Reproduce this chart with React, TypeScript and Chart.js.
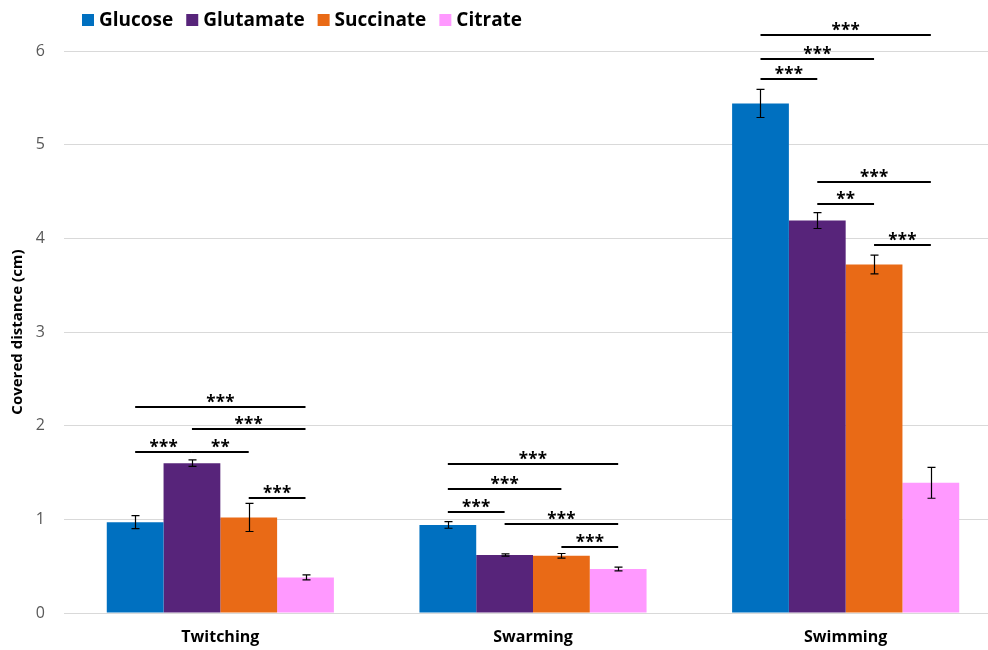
import React, { useEffect, useRef } from 'react';
import { Chart, registerables } from 'chart.js';

Chart.register(...registerables);

const categories = ['Twitching', 'Swarming', 'Swimming'];
const seriesNames = ['Glucose', 'Glutamate', 'Succinate', 'Citrate'];
const seriesColors = ['#0070C0', '#57247A', '#E96A16', '#FF99FF'];

// Mean covered distance (cm) per carbon source
const glucose = [0.97, 0.94, 5.44];
const glutamate = [1.6, 0.62, 4.19];
const succinate = [1.02, 0.61, 3.72];
const citrate = [0.38, 0.47, 1.39];

// Standard errors
const glucoseErr = [0.07, 0.035, 0.15];
const glutamateErr = [0.035, 0.012, 0.085];
const succinateErr = [0.15, 0.025, 0.1];
const citrateErr = [0.027, 0.02, 0.165];

const yMin = 0;
const yMax = 6;
const yStep = 1;

// Significance brackets: [from series, to series, height (cm), stars]
const twitchingBrackets: [number, number, number, string][] = [
  [0, 3, 2.2, '***'],
  [1, 3, 1.96, '***'],
  [0, 1, 1.72, '***'],
  [1, 2, 1.72, '**'],
  [2, 3, 1.23, '***'],
];
const swarmingBrackets: [number, number, number, string][] = [
  [0, 3, 1.59, '***'],
  [0, 2, 1.32, '***'],
  [0, 1, 1.08, '***'],
  [1, 3, 0.95, '***'],
  [2, 3, 0.7, '***'],
];
const swimmingBrackets: [number, number, number, string][] = [
  [0, 3, 6.17, '***'],
  [0, 2, 5.91, '***'],
  [0, 1, 5.7, '***'],
  [1, 3, 4.6, '***'],
  [1, 2, 4.37, '**'],
  [2, 3, 3.93, '***'],
];

const seriesValues = [glucose, glutamate, succinate, citrate];
const seriesErrors = [glucoseErr, glutamateErr, succinateErr, citrateErr];
const bracketGroups = [twitchingBrackets, swarmingBrackets, swimmingBrackets];

const FONT = "'Open Sans', 'DejaVu Sans', sans-serif";

const errorBarPlugin = {
  id: 'errorBars',
  afterDatasetsDraw(chart: any) {
    const { ctx } = chart;
    const yScale = chart.scales.y;
    ctx.save();
    ctx.strokeStyle = '#000';
    ctx.lineWidth = 1.2;
    seriesErrors.forEach((errs, di) => {
      const meta = chart.getDatasetMeta(di);
      meta.data.forEach((bar: any, ci: number) => {
        const v = seriesValues[di][ci];
        const e = errs[ci];
        const x = Math.round(bar.x) + 0.5;
        const yTop = yScale.getPixelForValue(v + e);
        const yBot = yScale.getPixelForValue(v - e);
        const cap = 4;
        ctx.beginPath();
        ctx.moveTo(x, yTop);
        ctx.lineTo(x, yBot);
        ctx.moveTo(x - cap, yTop);
        ctx.lineTo(x + cap, yTop);
        ctx.moveTo(x - cap, yBot);
        ctx.lineTo(x + cap, yBot);
        ctx.stroke();
      });
    });
    ctx.restore();
  },
};

const bracketPlugin = {
  id: 'sigBrackets',
  afterDraw(chart: any) {
    const { ctx } = chart;
    const yScale = chart.scales.y;
    ctx.save();
    ctx.strokeStyle = '#000';
    ctx.fillStyle = '#000';
    ctx.lineWidth = 2;
    ctx.font = `bold 17px ${FONT}`;
    ctx.textAlign = 'center';
    ctx.textBaseline = 'alphabetic';
    bracketGroups.forEach((group, ci) => {
      group.forEach(([from, to, level, stars]) => {
        const x1 = chart.getDatasetMeta(from).data[ci].x;
        const x2 = chart.getDatasetMeta(to).data[ci].x;
        const y = Math.round(yScale.getPixelForValue(level));
        ctx.beginPath();
        ctx.moveTo(x1, y);
        ctx.lineTo(x2, y);
        ctx.stroke();
        const mid = (x1 + x2) / 2;
        const spacing = 9.5;
        const m = ctx.measureText('*');
        const glyphMid = (m.actualBoundingBoxAscent - m.actualBoundingBoxDescent) / 2;
        const baseY = y - 8.5 + glyphMid;
        const n = stars.length;
        for (let k = 0; k < n; k++) {
          ctx.fillText('*', mid + (k - (n - 1) / 2) * spacing, baseY);
        }
      });
    });
    ctx.restore();
  },
};

const legendPlugin = {
  id: 'topLegend',
  afterDraw(chart: any) {
    const { ctx } = chart;
    ctx.save();
    ctx.font = `bold 19px ${FONT}`;
    ctx.textAlign = 'left';
    ctx.textBaseline = 'middle';
    let x = 82;
    const cy = 20;
    chart.data.datasets.forEach((ds: any) => {
      ctx.fillStyle = ds.backgroundColor;
      ctx.fillRect(x, cy - 6, 12, 12);
      ctx.fillStyle = '#000';
      const tx = x + 17;
      ctx.fillText(ds.label, tx, cy + 1);
      x = tx + ctx.measureText(ds.label).width + 13;
    });
    ctx.restore();
  },
};

function CoveredDistanceChart() {
  const canvasRef = useRef<HTMLCanvasElement | null>(null);

  useEffect(() => {
    if (!canvasRef.current) return;
    const chart = new Chart(canvasRef.current, {
      type: 'bar',
      data: {
        labels: categories,
        datasets: seriesNames.map((name, i) => ({
          label: name,
          data: seriesValues[i],
          backgroundColor: seriesColors[i],
          borderWidth: 0,
          categoryPercentage: 0.7264,
          barPercentage: 1.0,
        })),
      },
      options: {
        animation: false,
        responsive: true,
        maintainAspectRatio: false,
        layout: { padding: { top: 51, left: 0, right: 0, bottom: 0 } },
        plugins: {
          legend: { display: false },
          tooltip: { enabled: false },
        },
        scales: {
          x: {
            grid: { display: false, drawTicks: false },
            border: { display: false },
            ticks: {
              color: '#000',
              padding: 15,
              font: { family: FONT, size: 16, weight: 'bold' },
            },
            afterFit: (scale: any) => {
              scale.height = 37;
            },
          },
          y: {
            min: yMin,
            max: yMax,
            grid: { color: '#D9D9D9', lineWidth: 1, drawTicks: false },
            border: { display: false },
            ticks: {
              stepSize: yStep,
              color: '#595959',
              padding: 19,
              font: { family: FONT, size: 16 },
            },
            title: {
              display: true,
              text: 'Covered distance (cm)',
              color: '#000',
              font: { family: FONT, size: 15, weight: 'bold' },
              padding: { top: 9, bottom: 0 },
            },
            afterFit: (scale: any) => {
              scale.width = 64;
            },
          },
        },
      },
      plugins: [errorBarPlugin, bracketPlugin, legendPlugin],
    });
    return () => chart.destroy();
  }, []);

  return (
    <div style={{ position: 'fixed', left: 0, top: 0, width: 988, height: 650, overflow: 'hidden', background: '#fff' }}>
      <div style={{ position: 'relative', width: 1002, height: 650 }}>
        <canvas ref={canvasRef} />
      </div>
    </div>
  );
}

export default function App() {
  return <CoveredDistanceChart />;
}
